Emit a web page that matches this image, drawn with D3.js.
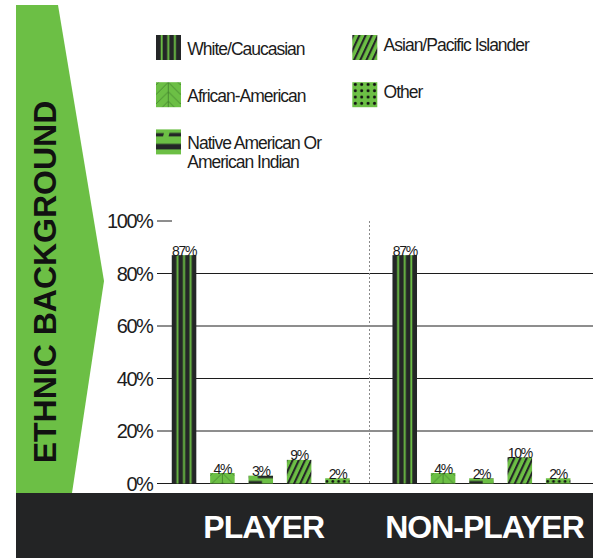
<!DOCTYPE html>
<html>
<head>
<meta charset="utf-8">
<script src="https://cdn.jsdelivr.net/npm/d3@7/dist/d3.min.js"></script>
<style>
  html, body { margin: 0; padding: 0; background: #fff; }
  svg { display: block; }
  text { font-family: "Liberation Sans", Arial, sans-serif; }
</style>
</head>
<body>
<svg id="chart" width="602" height="558"></svg>
<script>
// Respondent groups and ethnic categories
const groups = ["PLAYER", "NON-PLAYER"];
const ethnicities = ["White/Caucasian", "African-American", "Native American Or American Indian", "Asian/Pacific Islander", "Other"];
const playerValues = [87, 4, 3, 9, 2];
const nonPlayerValues = [87, 4, 2, 10, 2];
const yTicks = [0, 20, 40, 60, 80, 100];
const legendLabels = [["White/Caucasian"], ["African-American"], ["Native American Or", "American Indian"], ["Asian/Pacific Islander"], ["Other"]];
const title = "ETHNIC BACKGROUND";

const GREEN = "#6cbf45";
const DARK = "#242627";

const svg = d3.select("#chart");
const defs = svg.append("defs");

// Scales
const y = d3.scaleLinear().domain([0, 100]).range([483.5, 221]);
const x0 = d3.scaleBand().domain(groups).range([150.4, 591.8]).padding(0);
const x1 = d3.scaleBand().domain(ethnicities).range([0, x0.bandwidth()])
  .paddingInner(0.36).paddingOuter(0.557);
const bw = x1.bandwidth();

// ---- fill patterns (origin is the bar's anchor corner) ----
function pattern(id, w, h, attrs) {
  const p = defs.append("pattern").attr("id", id)
    .attr("patternUnits", "userSpaceOnUse")
    .attr("x", 0).attr("y", 0).attr("width", w).attr("height", h);
  if (attrs) Object.entries(attrs).forEach(([k, v]) => p.attr(k, v));
  return p;
}

// vertical stripes
{
  const p = pattern("pat-white", bw, 10);
  p.append("rect").attr("width", bw).attr("height", 10).attr("fill", DARK);
  const g = 1.9, d = (bw - 3 * g) / 4;
  [0, 1, 2].forEach(i => p.append("rect")
    .attr("x", d + i * (d + g)).attr("width", g).attr("height", 10).attr("fill", GREEN));
}
// feather / chevron lines
{
  const per = 9.5, c = bw / 2;
  const p = pattern("pat-african", bw, per);
  p.append("rect").attr("width", bw).attr("height", per).attr("fill", GREEN);
  const stroke = "#3f7f2c";
  p.append("line").attr("x1", c).attr("x2", c).attr("y1", 0).attr("y2", per)
    .attr("stroke", stroke).attr("stroke-width", 0.8);
  for (let k = -2; k <= 1; k++) {
    const y0 = k * per;
    [-1, 1].forEach(s => p.append("line")
      .attr("x1", c).attr("y1", y0).attr("x2", c + s * 14).attr("y2", y0 + 14)
      .attr("stroke", stroke).attr("stroke-width", 0.8));
  }
}
// staggered dashes (anchored at the baseline)
{
  const h = 12;
  const p = pattern("pat-native", bw, h, { y: 0 });
  p.append("rect").attr("width", bw).attr("height", h).attr("fill", GREEN);
  p.append("rect").attr("x", 0).attr("y", h - 2.5).attr("width", bw * 0.55).attr("height", 2.5).attr("fill", DARK);
  p.append("rect").attr("x", bw * 0.38).attr("y", h - 8).attr("width", bw * 0.62).attr("height", 2.7).attr("fill", DARK);
}
// legend version of the dashes
{
  const p = pattern("pat-native-key", 25, 25);
  p.append("rect").attr("width", 25).attr("height", 25).attr("fill", GREEN);
  p.append("path").attr("d", "M0,3.7H8L7,7H0Z").attr("fill", DARK);
  p.append("path").attr("d", "M13.5,3.5H25V7H12.5Z").attr("fill", DARK);
  p.append("rect").attr("x", 0).attr("y", 14.5).attr("width", 25).attr("height", 5.5).attr("fill", DARK);
}
// diagonal stripes
{
  const p = pattern("pat-asian", 5.6, 10, { patternTransform: "rotate(25)" });
  p.append("rect").attr("width", 5.6).attr("height", 10).attr("fill", GREEN);
  p.append("rect").attr("x", 0).attr("width", 2.1).attr("height", 10).attr("fill", DARK);
}
// dots (anchored at the baseline)
{
  const s = 5.8;
  const p = pattern("pat-other", s, 6.2);
  p.append("rect").attr("width", s).attr("height", 6.2).attr("fill", GREEN);
  p.append("circle").attr("cx", 1.8).attr("cy", 6.2 - 2.2).attr("r", 1.45).attr("fill", "#111");
}
{
  const p = pattern("pat-other-key", 6.4, 6.3, { x: -0.2, y: -0.9 });
  p.append("rect").attr("width", 6.4).attr("height", 6.3).attr("fill", GREEN);
  p.append("circle").attr("cx", 3.2).attr("cy", 3.15).attr("r", 1.5).attr("fill", "#111");
}

const barStyle = [
  { fill: "url(#pat-white)", key: "url(#pat-white)", anchor: "top" },
  { fill: "url(#pat-african)", key: "url(#pat-african)", anchor: "top" },
  { fill: "url(#pat-native)", key: "url(#pat-native-key)", anchor: "bottom" },
  { fill: "url(#pat-asian)", key: "url(#pat-asian)", anchor: "bottom" },
  { fill: "url(#pat-other)", key: "url(#pat-other-key)", anchor: "bottom" }
];

// ---- left banner ----
svg.append("path")
  .attr("d", "M16,5 L58,5 L104,281 L72,493 L16,493 Z")
  .attr("fill", GREEN);
svg.append("text")
  .attr("transform", "translate(56,282) rotate(-90)")
  .attr("text-anchor", "middle")
  .attr("font-size", 32).attr("font-weight", "bold")
  .attr("fill", "#111")
  .text(title);

// ---- footer ----
svg.append("rect").attr("x", 16).attr("y", 493).attr("width", 577).attr("height", 65).attr("fill", "#232425");
svg.selectAll("text.group").data(groups).join("text")
  .attr("class", "group")
  .attr("x", d => x0(d) + x0.bandwidth() / 2 + 3)
  .attr("y", 538)
  .attr("text-anchor", "middle")
  .attr("font-size", 32).attr("font-weight", "bold")
  .attr("letter-spacing", -1)
  .attr("fill", "#fff")
  .text(d => d);

// ---- gridlines & y axis (the top value only gets a short tick) ----
const xLeft = 157, xRight = 593;
svg.append("g").selectAll("line").data(yTicks).join("line")
  .attr("x1", xLeft).attr("x2", d => d === 100 ? 172 : xRight)
  .attr("y1", d => y(d)).attr("y2", d => y(d))
  .attr("stroke", "#1c1c1c").attr("stroke-width", 1);
svg.append("g").selectAll("text").data(yTicks).join("text")
  .attr("x", 152.5).attr("y", d => y(d) + 7)
  .attr("text-anchor", "end")
  .attr("font-size", 20)
  .attr("letter-spacing", -1.4)
  .attr("fill", "#1c1c1c")
  .text(d => d + "%");

// separator between the two groups
svg.append("line")
  .attr("x1", Math.round(x0(groups[1])) - 1.5).attr("x2", Math.round(x0(groups[1])) - 1.5)
  .attr("y1", y(100)).attr("y2", y(0))
  .attr("stroke", "#8a8a8a").attr("stroke-width", 1)
  .attr("stroke-dasharray", "2,2");

// ---- bars ----
const series = [playerValues, nonPlayerValues];
const rows = [];
groups.forEach((g, gi) => ethnicities.forEach((e, ei) => rows.push({ g, e, ei, v: series[gi][ei] })));

const bars = svg.append("g").selectAll("g.bar").data(rows).join("g")
  .attr("class", "bar")
  .attr("transform", d => {
    const bx = x0(d.g) + x1(d.e);
    const by = barStyle[d.ei].anchor === "top" ? y(d.v) : y(0);
    return `translate(${bx},${by})`;
  });
bars.append("rect")
  .attr("x", 0)
  .attr("y", d => barStyle[d.ei].anchor === "top" ? 0 : y(d.v) - y(0))
  .attr("width", bw)
  .attr("height", d => y(0) - y(d.v))
  .attr("fill", d => barStyle[d.ei].fill);

// value labels
svg.append("g").selectAll("text").data(rows).join("text")
  .attr("x", d => x0(d.g) + x1(d.e) + bw / 2)
  .attr("y", d => y(d.v) + 0.5)
  .attr("text-anchor", "middle")
  .attr("font-size", 14)
  .attr("letter-spacing", -1.3)
  .attr("fill", "#1a1a1a")
  .text(d => d.v + "%");

// ---- legend ----
const legend = svg.append("g").selectAll("g").data(ethnicities).join("g")
  .attr("transform", (d, i) => {
    const col = i < 3 ? 0 : 1, row = i < 3 ? i : i - 3;
    return `translate(${col ? 352.3 : 156},${35 + row * 47.2})`;
  });
legend.append("rect").attr("width", 25).attr("height", 25)
  .attr("fill", (d, i) => barStyle[i].key);
legend.append("text")
  .attr("x", 31.3)
  .attr("y", (d, i) => i < 3 ? 20 : 15.7)
  .attr("font-size", 17.5)
  .attr("letter-spacing", -1)
  .attr("fill", "#1c1c1c")
  .each(function (d, i) {
    const t = d3.select(this);
    legendLabels[i].forEach((line, li) => t.append("tspan")
      .attr("x", 31.3).attr("dy", li ? 18.4 : 0).text(line));
  });
</script>
</body>
</html>
